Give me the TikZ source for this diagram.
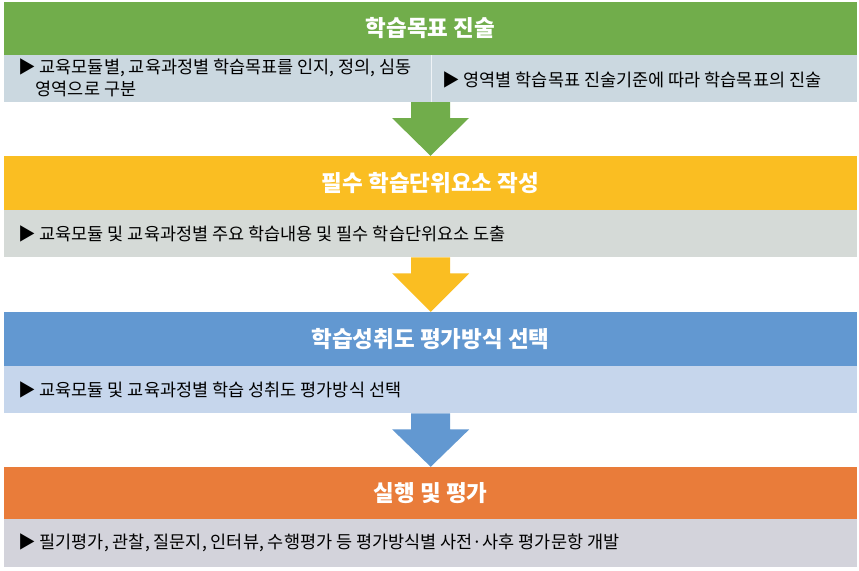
\documentclass[tikz,border=0pt]{standalone}
\usepackage{fontspec}
\setmainfont{Noto Sans CJK KR}
\usetikzlibrary{calc}
\definecolor{cgreen}{HTML}{71AD4B}
\definecolor{cbox1}{HTML}{CBD8E0}
\definecolor{cyellow}{HTML}{FABE22}
\definecolor{cbox2}{HTML}{D5DAD7}
\definecolor{cblue}{HTML}{6298D1}
\definecolor{cbox3}{HTML}{C6D6EC}
\definecolor{corange}{HTML}{E97C3A}
\definecolor{cbox4}{HTML}{D3D3DB}
\tikzset{
  header/.style={fill=#1, minimum width=853pt, inner sep=0pt, text=white,
    font=\fontsize{22.5}{26}\selectfont\bfseries},
  body/.style={fill=#1, inner sep=0pt, anchor=north west},
  btext/.style={anchor=west, inner sep=0pt, align=left, text=black,
    font=\fontsize{17.5}{22}\selectfont},
}
\newcommand{\blockarrow}[3]{%
  \path[fill=#1] let \p1=(#2), \p2=(#3) in
    (\x1-19.5pt,\y1) -- (\x1+19.5pt,\y1) -- (\x1+19.5pt,\y1-16pt) -- (\x1+38.5pt,\y1-16pt)
    -- (\x1,\y2) -- (\x1-38.5pt,\y1-16pt) -- (\x1-19.5pt,\y1-16pt) -- cycle;}
\begin{document}
\begin{tikzpicture}[x=1pt,y=-1pt]
\useasboundingbox[fill=white] (0,0) rectangle (859,570);
% stage 1
\node[header=cgreen, minimum height=53pt] (h1) at (430.5,28.5) {학습목표 진술};
\node[body=cbox1, minimum width=427pt, minimum height=47pt] (b1l) at (4,55) {};
\node[body=cbox1, minimum width=426pt, minimum height=47pt] (b1r) at (431,55) {};
\draw[white!70!cbox1, line width=0.8pt] (b1l.north east) -- (b1l.south east);
\node[btext] (t1l) at (18,77.5) {▶ 교육모듈별, 교육과정별 학습목표를 인지, 정의, 심동\\\phantom{▶}영역으로 구분};
\node[btext] (t1r) at (442,80) {▶ 영역별 학습목표 진술기준에 따라 학습목표의 진술};
\coordinate (b1) at (430.5,102);
% stage 2
\node[header=cyellow, minimum height=54pt] (h2) at (430.5,183) {필수 학습단위요소 작성};
\node[body=cbox2, minimum width=853pt, minimum height=47pt] (b2) at (4,210) {};
\node[btext] (t2) at (18,234) {▶ 교육모듈 및 교육과정별 주요 학습내용 및 필수 학습단위요소 도출};
% stage 3
\node[header=cblue, minimum height=54pt] (h3) at (430.5,339) {학습성취도 평가방식 선택};
\node[body=cbox3, minimum width=853pt, minimum height=47pt] (b3) at (4,366) {};
\node[btext] (t3) at (18,390) {▶ 교육모듈 및 교육과정별 학습 성취도 평가방식 선택};
% stage 4
\node[header=corange, minimum height=52pt] (h4) at (430.5,493) {실행 및 평가};
\node[body=cbox4, minimum width=853pt, minimum height=48pt] (b4) at (4,519) {};
\node[btext] (t4) at (18,543) {▶ 필기평가, 관찰, 질문지, 인터뷰, 수행평가 등 평가방식별 사전·사후 평가문항 개발};
% arrows
\blockarrow{cgreen}{b1}{h2.north}
\blockarrow{cyellow}{b2.south}{h3.north}
\blockarrow{cblue}{b3.south}{h4.north}
\end{tikzpicture}
\end{document}
